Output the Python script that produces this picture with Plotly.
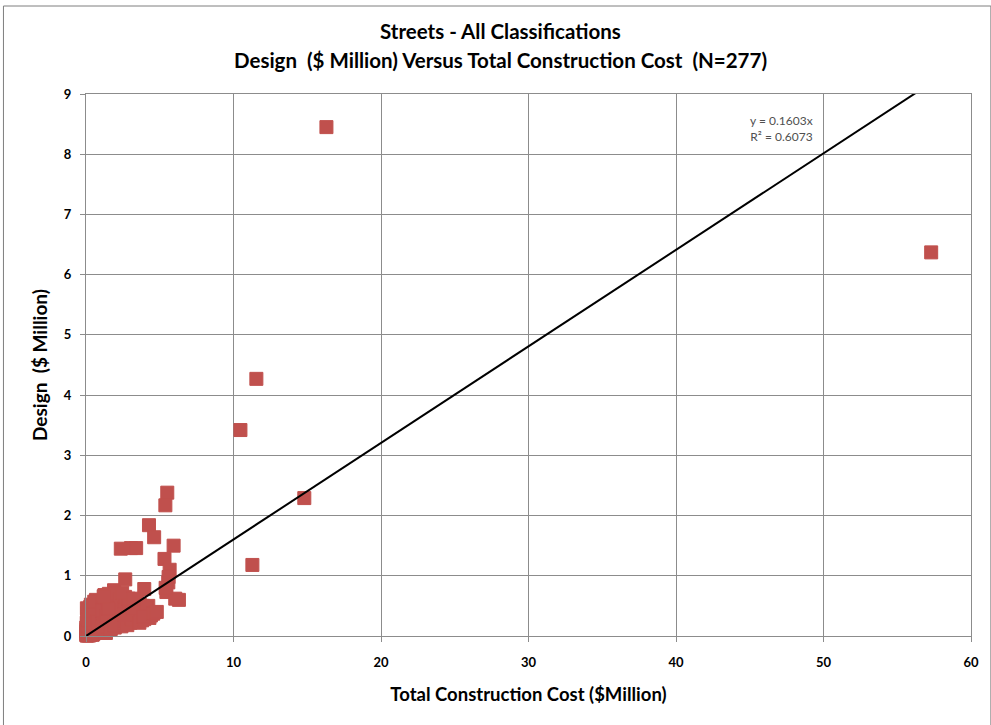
import plotly.graph_objects as go

# Outlying / larger projects: total construction cost vs design cost ($ million)
cost_large = [16.3, 57.3, 11.55, 10.47, 14.8, 11.28,
              5.51, 5.38, 4.27, 4.62, 2.36, 3.05, 3.4, 5.94, 5.32, 5.67,
              5.58, 5.45, 6.3, 6.05, 2.66, 3.95, 4.1, 4.6, 3.87, 4.55,
              5.6, 5.4, 2.45, 4.8, 3.2, 1.2]
design_large = [8.45, 6.37, 4.27, 3.42, 2.29, 1.18,
                2.38, 2.17, 1.84, 1.64, 1.45, 1.46, 1.46, 1.5, 1.28, 1.1,
                0.89, 0.73, 0.6, 0.62, 0.94, 0.78, 0.46, 0.39, 0.32, 0.37,
                0.98, 0.8, 0.72, 0.4, 0.62, 0.66]

# Small projects clustered near the origin
cost_a = [0.05, 0.08, 0.12, 0.15, 0.20, 0.10, 0.03, 0.07, 0.18, 0.25,
          0.30, 0.22, 0.35, 0.28, 0.40, 0.14, 0.09, 0.33, 0.45, 0.50,
          0.06, 0.11, 0.17, 0.24, 0.38, 0.42, 0.02, 0.13, 0.27, 0.31,
          0.19, 0.04, 0.16, 0.21, 0.36, 0.48, 0.26, 0.10, 0.08, 0.44,
          0.55, 0.58, 0.12, 0.29, 0.34, 0.05, 0.23, 0.39, 0.47, 0.15,
          0.07, 0.20, 0.32, 0.41, 0.52, 0.09, 0.18, 0.26, 0.37, 0.14,
          0.03, 0.11, 0.22, 0.30, 0.43, 0.56, 0.06, 0.17, 0.25, 0.35,
          0.49, 0.13, 0.21, 0.28, 0.40, 0.04, 0.16, 0.33, 0.46, 0.53,
          0.08, 0.19, 0.24, 0.31, 0.38, 0.12, 0.27, 0.44, 0.57, 0.10,
          0.02, 0.15, 0.23, 0.36, 0.50, 0.07, 0.20, 0.29, 0.42, 0.34]
design_a = [0.01, 0.02, 0.03, 0.02, 0.04, 0.05, 0.01, 0.03, 0.06, 0.04,
            0.05, 0.08, 0.06, 0.03, 0.07, 0.02, 0.04, 0.09, 0.06, 0.08,
            0.02, 0.07, 0.03, 0.05, 0.10, 0.04, 0.03, 0.10, 0.08, 0.02,
            0.06, 0.05, 0.09, 0.12, 0.04, 0.11, 0.02, 0.12, 0.08, 0.09,
            0.07, 0.12, 0.14, 0.11, 0.13, 0.07, 0.15, 0.06, 0.14, 0.11,
            0.10, 0.02, 0.03, 0.10, 0.05, 0.15, 0.13, 0.12, 0.08, 0.04,
            0.08, 0.01, 0.10, 0.14, 0.12, 0.09, 0.13, 0.16, 0.07, 0.15,
            0.03, 0.06, 0.05, 0.17, 0.05, 0.11, 0.01, 0.04, 0.16, 0.13,
            0.18, 0.08, 0.18, 0.07, 0.14, 0.09, 0.13, 0.02, 0.06, 0.03,
            0.14, 0.16, 0.01, 0.18, 0.10, 0.06, 0.09, 0.05, 0.11, 0.16]

cost_b = [0.05, 0.10, 0.15, 0.08, 0.20, 0.12, 0.25, 0.30, 0.18, 0.35,
          0.06, 0.22, 0.40, 0.28, 0.45, 0.14, 0.50, 0.33, 0.60, 0.38,
          0.55, 0.65, 0.70, 0.48, 0.75, 0.80, 0.62, 0.85, 0.90, 0.72,
          0.95, 1.00, 0.68, 1.05, 1.10, 0.58, 0.42, 0.78, 0.88, 1.15,
          0.24, 0.52, 0.66, 0.32, 0.92, 0.98, 0.46, 0.84, 1.02, 0.74,
          0.16, 0.36, 0.56, 0.76, 1.08]
design_b = [0.22, 0.30, 0.18, 0.38, 0.26, 0.44, 0.34, 0.20, 0.40, 0.28,
            0.46, 0.17, 0.36, 0.48, 0.24, 0.33, 0.42, 0.52, 0.30, 0.19,
            0.50, 0.22, 0.38, 0.27, 0.55, 0.18, 0.45, 0.32, 0.25, 0.58,
            0.42, 0.20, 0.60, 0.35, 0.28, 0.36, 0.43, 0.40, 0.50, 0.46,
            0.25, 0.20, 0.29, 0.35, 0.55, 0.15, 0.31, 0.22, 0.48, 0.34,
            0.28, 0.41, 0.57, 0.24, 0.18]

cost_c = [1.05, 1.20, 1.35, 1.50, 1.65, 1.80, 1.95, 2.10, 2.25, 2.40,
          1.12, 1.28, 1.42, 1.58, 1.72, 1.88, 2.02, 2.18, 2.32, 2.48,
          1.15, 1.30, 1.45, 1.60, 1.75, 1.90, 2.05, 2.20, 2.35, 1.25,
          1.40, 1.55, 1.70, 1.85, 2.00, 2.15, 2.30, 1.10, 1.62, 1.78,
          1.17, 1.48, 1.82, 2.12, 1.38, 1.68, 1.98, 2.28, 1.52, 1.92]
design_c = [0.08, 0.12, 0.05, 0.15, 0.10, 0.20, 0.14, 0.18, 0.22, 0.16,
            0.30, 0.25, 0.40, 0.35, 0.45, 0.50, 0.28, 0.38, 0.30, 0.42,
            0.55, 0.48, 0.62, 0.58, 0.66, 0.76, 0.60, 0.55, 0.50, 0.68,
            0.20, 0.70, 0.32, 0.26, 0.48, 0.65, 0.36, 0.42, 0.22, 0.58,
            0.16, 0.52, 0.40, 0.25, 0.34, 0.12, 0.70, 0.60, 0.45, 0.18]

cost_d = [2.55, 2.70, 2.85, 3.00, 3.15, 3.30, 3.45, 3.60, 3.75, 3.90,
          2.60, 2.75, 2.90, 3.05, 3.20, 3.35, 3.50, 3.65, 3.80, 4.00,
          2.65, 2.95, 3.25, 3.55, 3.85, 4.15, 4.30, 2.80, 3.10, 3.40,
          3.70, 4.05, 4.40, 2.58, 3.18, 3.62, 4.22, 2.88, 3.48, 3.95]
design_d = [0.20, 0.25, 0.30, 0.22, 0.35, 0.28, 0.40, 0.32, 0.38, 0.45,
            0.45, 0.55, 0.50, 0.60, 0.42, 0.48, 0.30, 0.52, 0.26, 0.36,
            0.65, 0.38, 0.55, 0.44, 0.50, 0.40, 0.30, 0.18, 0.28, 0.35,
            0.42, 0.48, 0.34, 0.35, 0.46, 0.22, 0.50, 0.62, 0.58, 0.28]

cost = cost_a + cost_b + cost_c + cost_d + cost_large
design = design_a + design_b + design_c + design_d + design_large

# Linear trendline through the origin
slope = 0.1603
r_squared = 0.6073
x_min, x_max = min(cost), max(cost)
trend_x = [x_min, x_max]
trend_y = [slope * x_min, slope * x_max]

x_ticks = [0, 10, 20, 30, 40, 50, 60]
y_ticks = [0, 1, 2, 3, 4, 5, 6, 7, 8, 9]

FONT = "Lato, Open Sans, sans-serif"
RED = "#C0504D"
GRID = "#8C8C8C"

fig = go.Figure()
fig.add_trace(go.Scatter(
    x=cost, y=design, mode="markers",
    marker=dict(symbol="square", size=13, color=RED,
                line=dict(color=RED, width=1)),
    showlegend=False, cliponaxis=False,
))
fig.add_trace(go.Scatter(
    x=trend_x, y=trend_y, mode="lines",
    line=dict(color="black", width=2),
    showlegend=False,
))

fig.update_layout(
    width=991, height=725,
    margin=dict(l=86, r=15, t=94, b=89),
    paper_bgcolor="white", plot_bgcolor="white",
    font=dict(family=FONT, color="black"),
    xaxis=dict(
        range=[0, 60], tickvals=x_ticks, ticks="outside", ticklen=5,
        tickcolor=GRID, showgrid=True, gridcolor=GRID, gridwidth=1,
        showline=True, linecolor=GRID, linewidth=1, mirror=True,
        zeroline=False, ticklabelstandoff=9,
        tickfont=dict(size=13, family=FONT, color="black", weight="bold"),
        title=dict(text="Total Construction Cost ($Million)",
                   font=dict(size=18.5, family=FONT, weight="bold"),
                   standoff=19),
    ),
    yaxis=dict(
        range=[0, 9], tickvals=y_ticks, ticks="outside", ticklen=5,
        tickcolor=GRID, showgrid=True, gridcolor=GRID, gridwidth=1,
        showline=True, linecolor=GRID, linewidth=1, mirror=True,
        zeroline=False, ticklabelstandoff=6,
        tickfont=dict(size=13, family=FONT, color="black", weight="bold"),
        title=dict(text="Design  ($ Million)",
                   font=dict(size=19, family=FONT, weight="bold"),
                   standoff=11),
    ),
    annotations=[
        dict(text="Streets - All Classifications", xref="paper", yref="paper",
             x=(503 - 86) / 890, y=(636 - 31) / 542, xanchor="center",
             yanchor="middle", showarrow=False,
             font=dict(size=20.5, family=FONT, weight="bold")),
        dict(text="Design  ($ Million) Versus Total Construction Cost  (N=277)",
             xref="paper", yref="paper",
             x=(503 - 86) / 890, y=(636 - 60) / 542, xanchor="center",
             yanchor="middle", showarrow=False,
             font=dict(size=20.5, family=FONT, weight="bold")),
        dict(text=f"y = {slope}x<br>R\u00b2 = {r_squared}",
             xref="x", yref="y", x=49.4, y=8.43, xanchor="right",
             yanchor="middle", align="right", showarrow=False,
             font=dict(size=12, family=FONT, color="#505050")),
    ],
    shapes=[
        dict(type="rect", xref="paper", yref="paper",
             x0=(3 - 86) / 890, x1=(996 - 86) / 890,
             y0=(636 - 740) / 542, y1=(636 - 6) / 542,
             line=dict(color="#7F7F7F", width=1), layer="below"),
    ],
)

fig.write_html("out.html")
